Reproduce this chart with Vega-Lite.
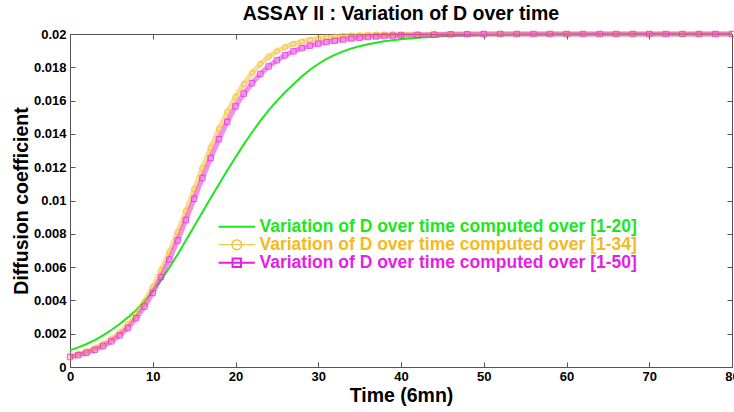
{
  "$schema": "https://vega.github.io/schema/vega-lite/v6.json",
  "width": 662,
  "height": 333,
  "autosize": {"type": "none"},
  "padding": {"left": 70, "top": 34, "right": 2, "bottom": 45},
  "background": "white",
  "config": {"view": {"stroke": null}, "font": "Liberation Sans"},
  "title": {"text": "ASSAY II : Variation of D over time", "fontSize": 19.5, "fontWeight": "bold", "font": "Liberation Sans", "color": "black", "offset": 0, "anchor": "middle"},
  "data": {"values": [
    {"s":"[1-20]","t":0,"D":0.00100},{"s":"[1-20]","t":1,"D":0.00118},{"s":"[1-20]","t":2,"D":0.00138},{"s":"[1-20]","t":3,"D":0.00162},{"s":"[1-20]","t":4,"D":0.00190},{"s":"[1-20]","t":5,"D":0.00222},{"s":"[1-20]","t":6,"D":0.00258},{"s":"[1-20]","t":7,"D":0.00298},{"s":"[1-20]","t":8,"D":0.00342},{"s":"[1-20]","t":9,"D":0.00395},{"s":"[1-20]","t":10,"D":0.00455},{"s":"[1-20]","t":11,"D":0.00522},{"s":"[1-20]","t":12,"D":0.00596},{"s":"[1-20]","t":13,"D":0.00676},{"s":"[1-20]","t":14,"D":0.00760},{"s":"[1-20]","t":15,"D":0.00845},{"s":"[1-20]","t":16,"D":0.00930},{"s":"[1-20]","t":17,"D":0.01015},{"s":"[1-20]","t":18,"D":0.01098},{"s":"[1-20]","t":19,"D":0.01180},{"s":"[1-20]","t":20,"D":0.01260},{"s":"[1-20]","t":21,"D":0.01337},{"s":"[1-20]","t":22,"D":0.01410},{"s":"[1-20]","t":23,"D":0.01478},{"s":"[1-20]","t":24,"D":0.01541},{"s":"[1-20]","t":25,"D":0.01598},{"s":"[1-20]","t":26,"D":0.01650},{"s":"[1-20]","t":27,"D":0.01698},{"s":"[1-20]","t":28,"D":0.01745},{"s":"[1-20]","t":29,"D":0.01785},{"s":"[1-20]","t":30,"D":0.01820},{"s":"[1-20]","t":31,"D":0.01850},{"s":"[1-20]","t":32,"D":0.01875},{"s":"[1-20]","t":33,"D":0.01896},{"s":"[1-20]","t":34,"D":0.01913},{"s":"[1-20]","t":35,"D":0.01927},{"s":"[1-20]","t":36,"D":0.01939},{"s":"[1-20]","t":37,"D":0.01948},{"s":"[1-20]","t":38,"D":0.01956},{"s":"[1-20]","t":39,"D":0.01963},{"s":"[1-20]","t":40,"D":0.01968},{"s":"[1-20]","t":42,"D":0.01978},{"s":"[1-20]","t":45,"D":0.01987},{"s":"[1-20]","t":50,"D":0.01994},{"s":"[1-20]","t":55,"D":0.01997},{"s":"[1-20]","t":60,"D":0.01999},{"s":"[1-20]","t":70,"D":0.02},{"s":"[1-20]","t":80,"D":0.02},
    {"s":"[1-34]","t":0,"D":0.00065},{"s":"[1-34]","t":1,"D":0.00078},{"s":"[1-34]","t":2,"D":0.00094},{"s":"[1-34]","t":3,"D":0.00114},{"s":"[1-34]","t":4,"D":0.00139},{"s":"[1-34]","t":5,"D":0.00169},{"s":"[1-34]","t":6,"D":0.00207},{"s":"[1-34]","t":7,"D":0.00255},{"s":"[1-34]","t":8,"D":0.00318},{"s":"[1-34]","t":9,"D":0.00393},{"s":"[1-34]","t":10,"D":0.00480},{"s":"[1-34]","t":11,"D":0.00580},{"s":"[1-34]","t":12,"D":0.00690},{"s":"[1-34]","t":13,"D":0.00810},{"s":"[1-34]","t":14,"D":0.00938},{"s":"[1-34]","t":15,"D":0.01068},{"s":"[1-34]","t":16,"D":0.01195},{"s":"[1-34]","t":17,"D":0.01317},{"s":"[1-34]","t":18,"D":0.01430},{"s":"[1-34]","t":19,"D":0.01532},{"s":"[1-34]","t":20,"D":0.01622},{"s":"[1-34]","t":21,"D":0.01700},{"s":"[1-34]","t":22,"D":0.01766},{"s":"[1-34]","t":23,"D":0.01820},{"s":"[1-34]","t":24,"D":0.01863},{"s":"[1-34]","t":25,"D":0.01896},{"s":"[1-34]","t":26,"D":0.01921},{"s":"[1-34]","t":27,"D":0.01940},{"s":"[1-34]","t":28,"D":0.01954},{"s":"[1-34]","t":29,"D":0.01965},{"s":"[1-34]","t":30,"D":0.01973},{"s":"[1-34]","t":31,"D":0.01979},{"s":"[1-34]","t":32,"D":0.01984},{"s":"[1-34]","t":33,"D":0.01988},{"s":"[1-34]","t":34,"D":0.01991},{"s":"[1-34]","t":35,"D":0.01993},{"s":"[1-34]","t":36,"D":0.01995},{"s":"[1-34]","t":37,"D":0.01996},{"s":"[1-34]","t":38,"D":0.01997},{"s":"[1-34]","t":39,"D":0.01998},{"s":"[1-34]","t":40,"D":0.01998},{"s":"[1-34]","t":42,"D":0.01999},{"s":"[1-34]","t":44,"D":0.01999},{"s":"[1-34]","t":46,"D":0.02},{"s":"[1-34]","t":48,"D":0.02},{"s":"[1-34]","t":50,"D":0.02},{"s":"[1-34]","t":52,"D":0.02},{"s":"[1-34]","t":54,"D":0.02},{"s":"[1-34]","t":56,"D":0.02},{"s":"[1-34]","t":58,"D":0.02},{"s":"[1-34]","t":60,"D":0.02},{"s":"[1-34]","t":62,"D":0.02},{"s":"[1-34]","t":64,"D":0.02},{"s":"[1-34]","t":66,"D":0.02},{"s":"[1-34]","t":68,"D":0.02},{"s":"[1-34]","t":70,"D":0.02},{"s":"[1-34]","t":72,"D":0.02},{"s":"[1-34]","t":74,"D":0.02},{"s":"[1-34]","t":76,"D":0.02},{"s":"[1-34]","t":78,"D":0.02},{"s":"[1-34]","t":80,"D":0.02},
    {"s":"[1-50]","t":0,"D":0.00060},{"s":"[1-50]","t":1,"D":0.00071},{"s":"[1-50]","t":2,"D":0.00085},{"s":"[1-50]","t":3,"D":0.00103},{"s":"[1-50]","t":4,"D":0.00126},{"s":"[1-50]","t":5,"D":0.00154},{"s":"[1-50]","t":6,"D":0.00190},{"s":"[1-50]","t":7,"D":0.00235},{"s":"[1-50]","t":8,"D":0.00293},{"s":"[1-50]","t":9,"D":0.00363},{"s":"[1-50]","t":10,"D":0.00445},{"s":"[1-50]","t":11,"D":0.00540},{"s":"[1-50]","t":12,"D":0.00645},{"s":"[1-50]","t":13,"D":0.00760},{"s":"[1-50]","t":14,"D":0.00883},{"s":"[1-50]","t":15,"D":0.01010},{"s":"[1-50]","t":16,"D":0.01135},{"s":"[1-50]","t":17,"D":0.01255},{"s":"[1-50]","t":18,"D":0.01368},{"s":"[1-50]","t":19,"D":0.01472},{"s":"[1-50]","t":20,"D":0.01565},{"s":"[1-50]","t":21,"D":0.01642},{"s":"[1-50]","t":22,"D":0.01705},{"s":"[1-50]","t":23,"D":0.01760},{"s":"[1-50]","t":24,"D":0.01805},{"s":"[1-50]","t":25,"D":0.01842},{"s":"[1-50]","t":26,"D":0.01872},{"s":"[1-50]","t":27,"D":0.01896},{"s":"[1-50]","t":28,"D":0.01915},{"s":"[1-50]","t":29,"D":0.01930},{"s":"[1-50]","t":30,"D":0.01942},{"s":"[1-50]","t":31,"D":0.01952},{"s":"[1-50]","t":32,"D":0.01960},{"s":"[1-50]","t":33,"D":0.01967},{"s":"[1-50]","t":34,"D":0.01973},{"s":"[1-50]","t":35,"D":0.01978},{"s":"[1-50]","t":36,"D":0.01982},{"s":"[1-50]","t":37,"D":0.01985},{"s":"[1-50]","t":38,"D":0.01988},{"s":"[1-50]","t":39,"D":0.01990},{"s":"[1-50]","t":40,"D":0.01992},{"s":"[1-50]","t":42,"D":0.01994},{"s":"[1-50]","t":44,"D":0.01996},{"s":"[1-50]","t":46,"D":0.01998},{"s":"[1-50]","t":48,"D":0.01999},{"s":"[1-50]","t":50,"D":0.02},{"s":"[1-50]","t":52,"D":0.02},{"s":"[1-50]","t":54,"D":0.02},{"s":"[1-50]","t":56,"D":0.02},{"s":"[1-50]","t":58,"D":0.02},{"s":"[1-50]","t":60,"D":0.02},{"s":"[1-50]","t":62,"D":0.02},{"s":"[1-50]","t":64,"D":0.02},{"s":"[1-50]","t":66,"D":0.02},{"s":"[1-50]","t":68,"D":0.02},{"s":"[1-50]","t":70,"D":0.02},{"s":"[1-50]","t":72,"D":0.02},{"s":"[1-50]","t":74,"D":0.02},{"s":"[1-50]","t":76,"D":0.02},{"s":"[1-50]","t":78,"D":0.02},{"s":"[1-50]","t":80,"D":0.02}
  ]},
  "resolve": {"axis": {"x": "independent", "y": "independent"}},
  "layer": [
    {
      "transform": [{"filter": "datum.s == '[1-20]'"}],
      "mark": {"type": "line", "clip": false, "strokeWidth": 2},
      "encoding": {
        "x": {"field": "t", "type": "quantitative", "scale": {"domain": [0, 80], "nice": false},
          "axis": {"orient": "bottom", "values": [0,10,20,30,40,50,60,70,80], "tickSize": -5, "labelPadding": 8, "labelFontSize": 13, "labelFontWeight": "bold", "labelColor": "black", "labelFlush": false, "labelOverlap": false, "domainColor": "#555", "tickColor": "#555", "grid": false,
            "title": "Time (6mn)", "titleFontSize": 19.5, "titleFontWeight": "bold", "titleColor": "black", "titlePadding": 3}},
        "y": {"field": "D", "type": "quantitative", "scale": {"domain": [0, 0.02], "nice": false},
          "axis": {"orient": "left", "values": [0,0.002,0.004,0.006,0.008,0.01,0.012,0.014,0.016,0.018,0.02], "format": "~g", "tickSize": -5, "labelPadding": 9, "labelFontSize": 13, "labelFontWeight": "bold", "labelColor": "black", "labelFlush": false, "labelOverlap": false, "domainColor": "#555", "tickColor": "#555", "grid": false,
            "title": "Diffusion coefficient", "titleFontSize": 19.5, "titleFontWeight": "bold", "titleColor": "black", "titlePadding": 2}},
        "color": {"field": "s", "type": "nominal",
          "scale": {"domain": ["[1-20]", "[1-34]", "[1-50]"], "range": ["#1ee61e", "#f5b921", "#e61ee6"]},
          "legend": {"orient": "none", "legendX": 158, "legendY": 184, "title": null, "padding": 0,
            "labelExpr": "'Variation of D over time computed over ' + datum.label",
            "labelFontSize": 17.5, "labelFontWeight": "bold", "labelFont": "Liberation Sans", "labelLimit": 1000,
            "symbolSize": 196, "symbolStrokeWidth": 2, "symbolOpacity": 1, "symbolFillColor": "transparent", "labelOffset": 14, "rowPadding": -2,
            "encode": {
              "symbols": {"update": {
                "shape": {"signal": "datum.value == '[1-20]' ? 'M-2.6,0L2.6,0' : datum.value == '[1-34]' ? 'M-2.6,0L2.6,0M0.7,0A0.7,0.7,0,1,1,-0.7,0A0.7,0.7,0,1,1,0.7,0' : 'M-2.6,0L2.6,0M-0.6,-0.6L0.6,-0.6L0.6,0.6L-0.6,0.6Z'"},
                "fill": {"value": "transparent"},
                "opacity": {"value": 1},
                "strokeWidth": {"signal": "datum.value == '[1-34]' ? 1.2 : 2"}
              }},
              "labels": {"update": {"fill": {"signal": "scale('color', datum.value)"}}}
            }}}
      }
    },
    {
      "transform": [{"filter": "datum.s != '[1-20]'"}],
      "mark": {"type": "line", "clip": false, "strokeWidth": 5, "opacity": 0.5},
      "encoding": {
        "x": {"field": "t", "type": "quantitative", "axis": null},
        "y": {"field": "D", "type": "quantitative", "axis": null},
        "color": {"field": "s", "type": "nominal"}
      }
    },
    {
      "transform": [{"filter": "datum.s == '[1-34]'"}],
      "mark": {"type": "point", "shape": "circle", "filled": false, "size": 30, "strokeWidth": 1, "clip": false},
      "encoding": {
        "x": {"field": "t", "type": "quantitative",
          "axis": {"orient": "top", "values": [0,10,20,30,40,50,60,70,80], "tickSize": -5, "labels": false, "title": null, "domainColor": "#555", "tickColor": "#555", "grid": false}},
        "y": {"field": "D", "type": "quantitative",
          "axis": {"orient": "right", "values": [0,0.002,0.004,0.006,0.008,0.01,0.012,0.014,0.016,0.018,0.02], "tickSize": -5, "labels": false, "title": null, "domainColor": "#555", "tickColor": "#555", "grid": false}},
        "color": {"field": "s", "type": "nominal"}
      }
    },
    {
      "transform": [{"filter": "datum.s == '[1-50]'"}],
      "mark": {"type": "point", "shape": "square", "filled": false, "size": 30, "strokeWidth": 1, "clip": false},
      "encoding": {
        "x": {"field": "t", "type": "quantitative", "axis": null},
        "y": {"field": "D", "type": "quantitative", "axis": null},
        "color": {"field": "s", "type": "nominal"}
      }
    }
  ]
}
